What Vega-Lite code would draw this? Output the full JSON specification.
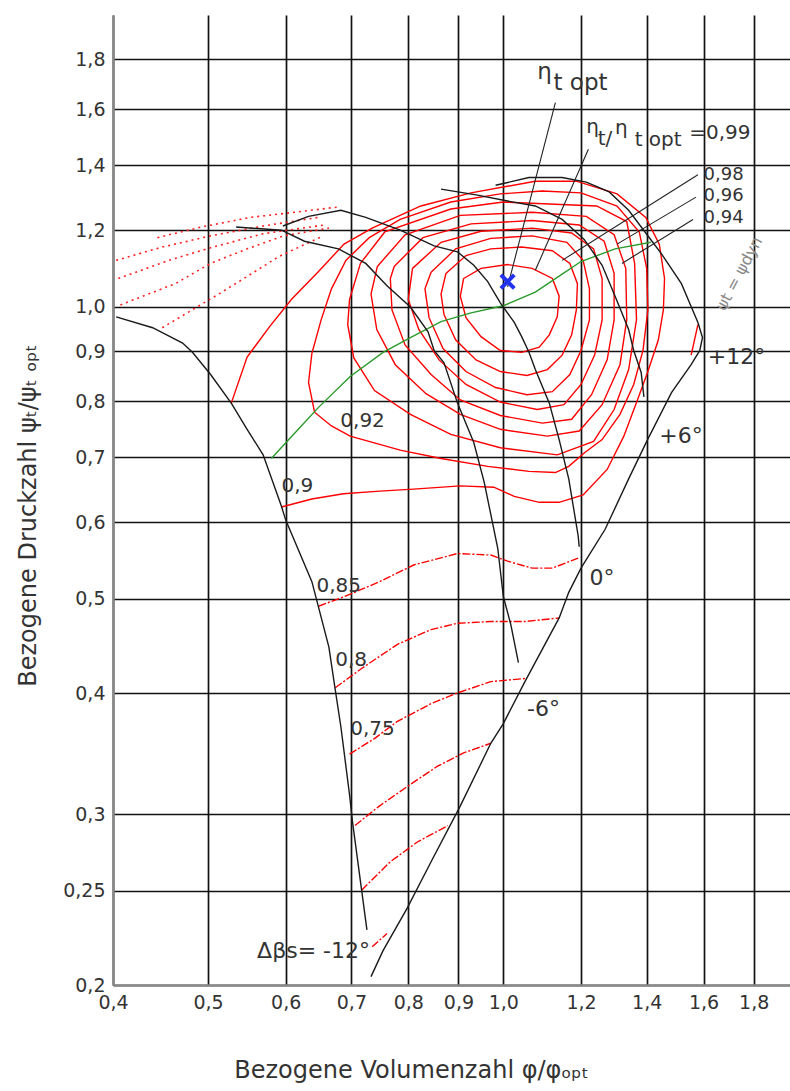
{
"$schema":"https://vega.github.io/schema/vega-lite/v6.json",
"width":677,"height":970,
"padding":{"left":113,"top":15,"right":0,"bottom":106},
"autosize":{"type":"none"},
"background":"white",
"config":{"view":{"stroke":null},"font":"DejaVu Sans"},
"datasets":{
"lines":[
{"k":"r","g":"C99","i":0,"x":0.911,"y":1.070},{"k":"r","g":"C99","i":1,"x":0.949,"y":1.096},{"k":"r","g":"C99","i":2,"x":1.010,"y":1.106},{"k":"r","g":"C99","i":3,"x":1.070,"y":1.096},{"k":"r","g":"C99","i":4,"x":1.122,"y":1.070},{"k":"r","g":"C99","i":5,"x":1.140,"y":1.026},{"k":"r","g":"C99","i":6,"x":1.135,"y":0.977},{"k":"r","g":"C99","i":7,"x":1.114,"y":0.936},{"k":"r","g":"C99","i":8,"x":1.088,"y":0.909},{"k":"r","g":"C99","i":9,"x":1.044,"y":0.898},{"k":"r","g":"C99","i":10,"x":0.993,"y":0.902},{"k":"r","g":"C99","i":11,"x":0.949,"y":0.932},{"k":"r","g":"C99","i":12,"x":0.916,"y":0.975},{"k":"r","g":"C99","i":13,"x":0.904,"y":1.026},{"k":"r","g":"C99","i":14,"x":0.911,"y":1.070},
{"k":"r","g":"C98","i":0,"x":0.874,"y":1.083},{"k":"r","g":"C98","i":1,"x":0.916,"y":1.130},{"k":"r","g":"C98","i":2,"x":0.971,"y":1.148},{"k":"r","g":"C98","i":3,"x":1.044,"y":1.153},{"k":"r","g":"C98","i":4,"x":1.122,"y":1.143},{"k":"r","g":"C98","i":5,"x":1.169,"y":1.109},{"k":"r","g":"C98","i":6,"x":1.190,"y":1.057},{"k":"r","g":"C98","i":7,"x":1.187,"y":0.993},{"k":"r","g":"C98","i":8,"x":1.174,"y":0.936},{"k":"r","g":"C98","i":9,"x":1.148,"y":0.892},{"k":"r","g":"C98","i":10,"x":1.109,"y":0.862},{"k":"r","g":"C98","i":11,"x":1.057,"y":0.850},{"k":"r","g":"C98","i":12,"x":0.993,"y":0.858},{"k":"r","g":"C98","i":13,"x":0.938,"y":0.882},{"k":"r","g":"C98","i":14,"x":0.894,"y":0.925},{"k":"r","g":"C98","i":15,"x":0.870,"y":0.982},{"k":"r","g":"C98","i":16,"x":0.864,"y":1.031},{"k":"r","g":"C98","i":17,"x":0.874,"y":1.083},
{"k":"r","g":"C97","i":0,"x":0.844,"y":1.086},{"k":"r","g":"C97","i":1,"x":0.894,"y":1.148},{"k":"r","g":"C97","i":2,"x":0.971,"y":1.177},{"k":"r","g":"C97","i":3,"x":1.070,"y":1.184},{"k":"r","g":"C97","i":4,"x":1.161,"y":1.166},{"k":"r","g":"C97","i":5,"x":1.206,"y":1.117},{"k":"r","g":"C97","i":6,"x":1.224,"y":1.044},{"k":"r","g":"C97","i":7,"x":1.224,"y":0.970},{"k":"r","g":"C97","i":8,"x":1.200,"y":0.902},{"k":"r","g":"C97","i":9,"x":1.169,"y":0.852},{"k":"r","g":"C97","i":10,"x":1.122,"y":0.818},{"k":"r","g":"C97","i":11,"x":1.057,"y":0.812},{"k":"r","g":"C97","i":12,"x":0.982,"y":0.826},{"k":"r","g":"C97","i":13,"x":0.916,"y":0.858},{"k":"r","g":"C97","i":14,"x":0.868,"y":0.906},{"k":"r","g":"C97","i":15,"x":0.840,"y":0.975},{"k":"r","g":"C97","i":16,"x":0.832,"y":1.044},{"k":"r","g":"C97","i":17,"x":0.844,"y":1.086},
{"k":"r","g":"C96","i":0,"x":0.808,"y":1.096},{"k":"r","g":"C96","i":1,"x":0.864,"y":1.166},{"k":"r","g":"C96","i":2,"x":0.949,"y":1.197},{"k":"r","g":"C96","i":3,"x":1.070,"y":1.206},{"k":"r","g":"C96","i":4,"x":1.174,"y":1.192},{"k":"r","g":"C96","i":5,"x":1.236,"y":1.148},{"k":"r","g":"C96","i":6,"x":1.261,"y":1.070},{"k":"r","g":"C96","i":7,"x":1.261,"y":0.970},{"k":"r","g":"C96","i":8,"x":1.239,"y":0.892},{"k":"r","g":"C96","i":9,"x":1.200,"y":0.832},{"k":"r","g":"C96","i":10,"x":1.153,"y":0.793},{"k":"r","g":"C96","i":11,"x":1.083,"y":0.784},{"k":"r","g":"C96","i":12,"x":0.993,"y":0.798},{"k":"r","g":"C96","i":13,"x":0.916,"y":0.832},{"k":"r","g":"C96","i":14,"x":0.860,"y":0.882},{"k":"r","g":"C96","i":15,"x":0.820,"y":0.948},{"k":"r","g":"C96","i":16,"x":0.800,"y":1.018},{"k":"r","g":"C96","i":17,"x":0.808,"y":1.096},
{"k":"r","g":"C95","i":0,"x":0.774,"y":1.101},{"k":"r","g":"C95","i":1,"x":0.828,"y":1.179},{"k":"r","g":"C95","i":2,"x":0.927,"y":1.218},{"k":"r","g":"C95","i":3,"x":1.070,"y":1.228},{"k":"r","g":"C95","i":4,"x":1.195,"y":1.215},{"k":"r","g":"C95","i":5,"x":1.267,"y":1.169},{"k":"r","g":"C95","i":6,"x":1.297,"y":1.083},{"k":"r","g":"C95","i":7,"x":1.297,"y":0.970},{"k":"r","g":"C95","i":8,"x":1.276,"y":0.882},{"k":"r","g":"C95","i":9,"x":1.230,"y":0.812},{"k":"r","g":"C95","i":10,"x":1.174,"y":0.766},{"k":"r","g":"C95","i":11,"x":1.096,"y":0.759},{"k":"r","g":"C95","i":12,"x":0.993,"y":0.773},{"k":"r","g":"C95","i":13,"x":0.904,"y":0.802},{"k":"r","g":"C95","i":14,"x":0.844,"y":0.852},{"k":"r","g":"C95","i":15,"x":0.794,"y":0.914},{"k":"r","g":"C95","i":16,"x":0.770,"y":0.993},{"k":"r","g":"C95","i":17,"x":0.767,"y":1.070},{"k":"r","g":"C95","i":18,"x":0.774,"y":1.101},
{"k":"r","g":"C94","i":0,"x":0.744,"y":1.101},{"k":"r","g":"C94","i":1,"x":0.794,"y":1.187},{"k":"r","g":"C94","i":2,"x":0.904,"y":1.243},{"k":"r","g":"C94","i":3,"x":1.070,"y":1.252},{"k":"r","g":"C94","i":4,"x":1.215,"y":1.240},{"k":"r","g":"C94","i":5,"x":1.297,"y":1.187},{"k":"r","g":"C94","i":6,"x":1.333,"y":1.096},{"k":"r","g":"C94","i":7,"x":1.336,"y":0.970},{"k":"r","g":"C94","i":8,"x":1.315,"y":0.872},{"k":"r","g":"C94","i":9,"x":1.261,"y":0.793},{"k":"r","g":"C94","i":10,"x":1.195,"y":0.745},{"k":"r","g":"C94","i":11,"x":1.109,"y":0.736},{"k":"r","g":"C94","i":12,"x":0.993,"y":0.748},{"k":"r","g":"C94","i":13,"x":0.904,"y":0.775},{"k":"r","g":"C94","i":14,"x":0.834,"y":0.814},{"k":"r","g":"C94","i":15,"x":0.776,"y":0.872},{"k":"r","g":"C94","i":16,"x":0.743,"y":0.948},{"k":"r","g":"C94","i":17,"x":0.733,"y":1.031},{"k":"r","g":"C94","i":18,"x":0.744,"y":1.101},
{"k":"r","g":"C93","i":0,"x":0.715,"y":1.109},{"k":"r","g":"C93","i":1,"x":0.757,"y":1.195},{"k":"r","g":"C93","i":2,"x":0.884,"y":1.262},{"k":"r","g":"C93","i":3,"x":1.000,"y":1.283},{"k":"r","g":"C93","i":4,"x":1.245,"y":1.271},{"k":"r","g":"C93","i":5,"x":1.336,"y":1.225},{"k":"r","g":"C93","i":6,"x":1.361,"y":1.109},{"k":"r","g":"C93","i":7,"x":1.367,"y":0.970},{"k":"r","g":"C93","i":8,"x":1.342,"y":0.862},{"k":"r","g":"C93","i":9,"x":1.297,"y":0.784},{"k":"r","g":"C93","i":10,"x":1.236,"y":0.727},{"k":"r","g":"C93","i":11,"x":1.135,"y":0.704},{"k":"r","g":"C93","i":12,"x":0.993,"y":0.716},{"k":"r","g":"C93","i":13,"x":0.884,"y":0.739},{"k":"r","g":"C93","i":14,"x":0.804,"y":0.775},{"k":"r","g":"C93","i":15,"x":0.739,"y":0.820},{"k":"r","g":"C93","i":16,"x":0.704,"y":0.886},{"k":"r","g":"C93","i":17,"x":0.694,"y":0.959},{"k":"r","g":"C93","i":18,"x":0.697,"y":1.018},{"k":"r","g":"C93","i":19,"x":0.715,"y":1.109},
{"k":"r","g":"C92","i":0,"x":0.633,"y":0.836},{"k":"r","g":"C92","i":1,"x":0.638,"y":0.896},{"k":"r","g":"C92","i":2,"x":0.652,"y":0.970},{"k":"r","g":"C92","i":3,"x":0.668,"y":1.044},{"k":"r","g":"C92","i":4,"x":0.691,"y":1.117},{"k":"r","g":"C92","i":5,"x":0.730,"y":1.179},{"k":"r","g":"C92","i":6,"x":0.785,"y":1.231},{"k":"r","g":"C92","i":7,"x":0.884,"y":1.283},{"k":"r","g":"C92","i":8,"x":0.993,"y":1.308},{"k":"r","g":"C92","i":9,"x":1.096,"y":1.317},{"k":"r","g":"C92","i":10,"x":1.200,"y":1.311},{"k":"r","g":"C92","i":11,"x":1.306,"y":1.271},{"k":"r","g":"C92","i":12,"x":1.376,"y":1.195},{"k":"r","g":"C92","i":13,"x":1.400,"y":1.096},{"k":"r","g":"C92","i":14,"x":1.404,"y":0.993},{"k":"r","g":"C92","i":15,"x":1.388,"y":0.902},{"k":"r","g":"C92","i":16,"x":1.358,"y":0.832},{"k":"r","g":"C92","i":17,"x":1.315,"y":0.775},{"k":"r","g":"C92","i":18,"x":1.261,"y":0.730},{"k":"r","g":"C92","i":19,"x":1.209,"y":0.707},{"k":"r","g":"C92","i":20,"x":1.166,"y":0.685},{"k":"r","g":"C92","i":21,"x":1.130,"y":0.675},{"k":"r","g":"C92","i":22,"x":1.062,"y":0.677},{"k":"r","g":"C92","i":23,"x":0.964,"y":0.685},{"k":"r","g":"C92","i":24,"x":0.864,"y":0.698},{"k":"r","g":"C92","i":25,"x":0.785,"y":0.712},{"k":"r","g":"C92","i":26,"x":0.698,"y":0.736},{"k":"r","g":"C92","i":27,"x":0.668,"y":0.754},{"k":"r","g":"C92","i":28,"x":0.642,"y":0.779},{"k":"r","g":"C92","i":29,"x":0.633,"y":0.836},
{"k":"r","g":"C90","i":0,"x":0.528,"y":0.796},{"k":"r","g":"C90","i":1,"x":0.548,"y":0.888},{"k":"r","g":"C90","i":2,"x":0.578,"y":0.955},{"k":"r","g":"C90","i":3,"x":0.608,"y":1.018},{"k":"r","g":"C90","i":4,"x":0.648,"y":1.088},{"k":"r","g":"C90","i":5,"x":0.688,"y":1.161},{"k":"r","g":"C90","i":6,"x":0.735,"y":1.206},{"k":"r","g":"C90","i":7,"x":0.824,"y":1.271},{"k":"r","g":"C90","i":8,"x":0.927,"y":1.311},{"k":"r","g":"C90","i":9,"x":1.078,"y":1.348},{"k":"r","g":"C90","i":10,"x":1.187,"y":1.348},{"k":"r","g":"C90","i":11,"x":1.306,"y":1.308},{"k":"r","g":"C90","i":12,"x":1.397,"y":1.237},{"k":"r","g":"C90","i":13,"x":1.442,"y":1.161},{"k":"r","g":"C90","i":14,"x":1.460,"y":1.070},{"k":"r","g":"C90","i":15,"x":1.456,"y":0.993},{"k":"r","g":"C90","i":16,"x":1.439,"y":0.925},{"k":"r","g":"C90","i":17,"x":1.404,"y":0.858},{"k":"r","g":"C90","i":18,"x":1.370,"y":0.802},{"k":"r","g":"C90","i":19,"x":1.327,"y":0.736},{"k":"r","g":"C90","i":20,"x":1.276,"y":0.680},{"k":"r","g":"C90","i":21,"x":1.206,"y":0.640},{"k":"r","g":"C90","i":22,"x":1.140,"y":0.629},{"k":"r","g":"C90","i":23,"x":1.088,"y":0.629},{"k":"r","g":"C90","i":24,"x":1.026,"y":0.638},{"k":"r","g":"C90","i":25,"x":0.978,"y":0.652},{"k":"r","g":"C90","i":26,"x":0.904,"y":0.654},{"k":"r","g":"C90","i":27,"x":0.810,"y":0.649},{"k":"r","g":"C90","i":28,"x":0.748,"y":0.646},{"k":"r","g":"C90","i":29,"x":0.687,"y":0.642},{"k":"r","g":"C90","i":30,"x":0.638,"y":0.634},{"k":"r","g":"C90","i":31,"x":0.594,"y":0.622},
{"k":"r","g":"S12","i":0,"x":1.579,"y":0.959},{"k":"r","g":"S12","i":1,"x":1.554,"y":0.892},
{"k":"rd","g":"L85","i":0,"x":0.648,"y":0.4915},{"k":"rd","g":"L85","i":1,"x":0.689,"y":0.503},{"k":"rd","g":"L85","i":2,"x":0.748,"y":0.521},{"k":"rd","g":"L85","i":3,"x":0.810,"y":0.542},{"k":"rd","g":"L85","i":4,"x":0.898,"y":0.557},{"k":"rd","g":"L85","i":5,"x":0.971,"y":0.555},{"k":"rd","g":"L85","i":6,"x":1.010,"y":0.547},{"k":"rd","g":"L85","i":7,"x":1.070,"y":0.538},{"k":"rd","g":"L85","i":8,"x":1.122,"y":0.538},{"k":"rd","g":"L85","i":9,"x":1.192,"y":0.551},
{"k":"rd","g":"L80","i":0,"x":0.674,"y":0.405},{"k":"rd","g":"L80","i":1,"x":0.717,"y":0.424},{"k":"rd","g":"L80","i":2,"x":0.780,"y":0.449},{"k":"rd","g":"L80","i":3,"x":0.844,"y":0.465},{"k":"rd","g":"L80","i":4,"x":0.898,"y":0.472},{"k":"rd","g":"L80","i":5,"x":0.971,"y":0.474},{"k":"rd","g":"L80","i":6,"x":1.052,"y":0.474},{"k":"rd","g":"L80","i":7,"x":1.140,"y":0.478},
{"k":"rd","g":"L75","i":0,"x":0.697,"y":0.346},{"k":"rd","g":"L75","i":1,"x":0.739,"y":0.359},{"k":"rd","g":"L75","i":2,"x":0.780,"y":0.374},{"k":"rd","g":"L75","i":3,"x":0.844,"y":0.390},{"k":"rd","g":"L75","i":4,"x":0.898,"y":0.400},{"k":"rd","g":"L75","i":5,"x":0.971,"y":0.411},{"k":"rd","g":"L75","i":6,"x":1.052,"y":0.414},
{"k":"rd","g":"L70","i":0,"x":0.706,"y":0.292},{"k":"rd","g":"L70","i":1,"x":0.748,"y":0.306},{"k":"rd","g":"L70","i":2,"x":0.804,"y":0.322},{"k":"rd","g":"L70","i":3,"x":0.856,"y":0.336},{"k":"rd","g":"L70","i":4,"x":0.911,"y":0.347},{"k":"rd","g":"L70","i":5,"x":0.971,"y":0.355},
{"k":"rd","g":"L65","i":0,"x":0.717,"y":0.2505},{"k":"rd","g":"L65","i":1,"x":0.767,"y":0.268},{"k":"rd","g":"L65","i":2,"x":0.818,"y":0.281},{"k":"rd","g":"L65","i":3,"x":0.878,"y":0.292},
{"k":"rd","g":"L60","i":0,"x":0.735,"y":0.219},{"k":"rd","g":"L60","i":1,"x":0.761,"y":0.226},
{"k":"rt","g":"T1","i":0,"x":0.444,"y":1.179},{"k":"rt","g":"T1","i":1,"x":0.492,"y":1.209},{"k":"rt","g":"T1","i":2,"x":0.552,"y":1.237},{"k":"rt","g":"T1","i":3,"x":0.612,"y":1.252},{"k":"rt","g":"T1","i":4,"x":0.679,"y":1.268},
{"k":"rt","g":"T2","i":0,"x":0.403,"y":1.117},{"k":"rt","g":"T2","i":1,"x":0.449,"y":1.153},{"k":"rt","g":"T2","i":2,"x":0.503,"y":1.184},{"k":"rt","g":"T2","i":3,"x":0.569,"y":1.212},{"k":"rt","g":"T2","i":4,"x":0.648,"y":1.237},
{"k":"rt","g":"T3","i":0,"x":0.405,"y":1.070},{"k":"rt","g":"T3","i":1,"x":0.456,"y":1.117},{"k":"rt","g":"T3","i":2,"x":0.506,"y":1.153},{"k":"rt","g":"T3","i":3,"x":0.569,"y":1.190},{"k":"rt","g":"T3","i":4,"x":0.658,"y":1.215},
{"k":"rt","g":"T4","i":0,"x":0.407,"y":1.005},{"k":"rt","g":"T4","i":1,"x":0.463,"y":1.057},{"k":"rt","g":"T4","i":2,"x":0.503,"y":1.109},{"k":"rt","g":"T4","i":3,"x":0.548,"y":1.148},{"k":"rt","g":"T4","i":4,"x":0.597,"y":1.184},{"k":"rt","g":"T4","i":5,"x":0.664,"y":1.206},
{"k":"rt","g":"T5","i":0,"x":0.449,"y":0.952},{"k":"rt","g":"T5","i":1,"x":0.506,"y":1.023},{"k":"rt","g":"T5","i":2,"x":0.548,"y":1.075},{"k":"rt","g":"T5","i":3,"x":0.590,"y":1.127},{"k":"rt","g":"T5","i":4,"x":0.653,"y":1.182},
{"k":"b","g":"A","i":0,"x":0.403,"y":0.977},{"k":"b","g":"A","i":1,"x":0.439,"y":0.952},{"k":"b","g":"A","i":2,"x":0.471,"y":0.918},{"k":"b","g":"A","i":3,"x":0.482,"y":0.898},{"k":"b","g":"A","i":4,"x":0.503,"y":0.852},{"k":"b","g":"A","i":5,"x":0.528,"y":0.796},{"k":"b","g":"A","i":6,"x":0.548,"y":0.748},{"k":"b","g":"A","i":7,"x":0.569,"y":0.704},{"k":"b","g":"A","i":8,"x":0.594,"y":0.623},{"k":"b","g":"A","i":9,"x":0.600,"y":0.603},{"k":"b","g":"A","i":10,"x":0.638,"y":0.521},{"k":"b","g":"A","i":11,"x":0.664,"y":0.446},{"k":"b","g":"A","i":12,"x":0.674,"y":0.403},{"k":"b","g":"A","i":13,"x":0.683,"y":0.369},{"k":"b","g":"A","i":14,"x":0.697,"y":0.314},{"k":"b","g":"A","i":15,"x":0.702,"y":0.294},{"k":"b","g":"A","i":16,"x":0.717,"y":0.2505},{"k":"b","g":"A","i":17,"x":0.726,"y":0.228},
{"k":"b","g":"B1","i":0,"x":0.534,"y":1.209},{"k":"b","g":"B1","i":1,"x":0.594,"y":1.200},{"k":"b","g":"B1","i":2,"x":0.627,"y":1.169},{"k":"b","g":"B1","i":3,"x":0.679,"y":1.148},{"k":"b","g":"B1","i":4,"x":0.724,"y":1.109},{"k":"b","g":"B1","i":5,"x":0.761,"y":1.052},{"k":"b","g":"B1","i":6,"x":0.804,"y":1.000},{"k":"b","g":"B1","i":7,"x":0.838,"y":0.943},{"k":"b","g":"B1","i":8,"x":0.850,"y":0.902},{"k":"b","g":"B1","i":9,"x":0.870,"y":0.876},{"k":"b","g":"B1","i":10,"x":0.898,"y":0.796},{"k":"b","g":"B1","i":11,"x":0.933,"y":0.725},{"k":"b","g":"B1","i":12,"x":0.956,"y":0.660},{"k":"b","g":"B1","i":13,"x":0.987,"y":0.564},{"k":"b","g":"B1","i":14,"x":1.000,"y":0.503},{"k":"b","g":"B1","i":15,"x":1.018,"y":0.470},{"k":"b","g":"B1","i":16,"x":1.036,"y":0.430},
{"k":"b","g":"B2","i":0,"x":0.596,"y":1.212},{"k":"b","g":"B2","i":1,"x":0.633,"y":1.240},{"k":"b","g":"B2","i":2,"x":0.683,"y":1.258},{"k":"b","g":"B2","i":3,"x":0.724,"y":1.237},{"k":"b","g":"B2","i":4,"x":0.785,"y":1.200},{"k":"b","g":"B2","i":5,"x":0.850,"y":1.156},{"k":"b","g":"B2","i":6,"x":0.898,"y":1.140},{"k":"b","g":"B2","i":7,"x":0.933,"y":1.104},{"k":"b","g":"B2","i":8,"x":0.964,"y":1.062},{"k":"b","g":"B2","i":9,"x":0.993,"y":1.010},{"k":"b","g":"B2","i":10,"x":1.026,"y":0.964},{"k":"b","g":"B2","i":11,"x":1.044,"y":0.932},{"k":"b","g":"B2","i":12,"x":1.062,"y":0.898},{"k":"b","g":"B2","i":13,"x":1.078,"y":0.862},{"k":"b","g":"B2","i":14,"x":1.114,"y":0.796},{"k":"b","g":"B2","i":15,"x":1.140,"y":0.730},{"k":"b","g":"B2","i":16,"x":1.166,"y":0.665},{"k":"b","g":"B2","i":17,"x":1.192,"y":0.581},{"k":"b","g":"B2","i":18,"x":1.195,"y":0.566},
{"k":"b","g":"C","i":0,"x":0.864,"y":1.323},{"k":"b","g":"C","i":1,"x":0.938,"y":1.305},{"k":"b","g":"C","i":2,"x":1.010,"y":1.286},{"k":"b","g":"C","i":3,"x":1.078,"y":1.271},{"k":"b","g":"C","i":4,"x":1.148,"y":1.231},{"k":"b","g":"C","i":5,"x":1.209,"y":1.174},{"k":"b","g":"C","i":6,"x":1.261,"y":1.104},{"k":"b","g":"C","i":7,"x":1.300,"y":1.026},{"k":"b","g":"C","i":8,"x":1.342,"y":0.948},{"k":"b","g":"C","i":9,"x":1.358,"y":0.902},{"k":"b","g":"C","i":10,"x":1.382,"y":0.856},{"k":"b","g":"C","i":11,"x":1.391,"y":0.808},
{"k":"b","g":"D","i":0,"x":0.982,"y":1.335},{"k":"b","g":"D","i":1,"x":1.062,"y":1.360},{"k":"b","g":"D","i":2,"x":1.148,"y":1.360},{"k":"b","g":"D","i":3,"x":1.215,"y":1.345},{"k":"b","g":"D","i":4,"x":1.282,"y":1.314},{"k":"b","g":"D","i":5,"x":1.342,"y":1.258},{"k":"b","g":"D","i":6,"x":1.397,"y":1.192},{"k":"b","g":"D","i":7,"x":1.449,"y":1.135},{"k":"b","g":"D","i":8,"x":1.519,"y":1.057},{"k":"b","g":"D","i":9,"x":1.579,"y":0.964},{"k":"b","g":"D","i":10,"x":1.596,"y":0.930},{"k":"b","g":"D","i":11,"x":1.586,"y":0.902},{"k":"b","g":"D","i":12,"x":1.554,"y":0.872},{"k":"b","g":"D","i":13,"x":1.484,"y":0.816},{"k":"b","g":"D","i":14,"x":1.403,"y":0.730},{"k":"b","g":"D","i":15,"x":1.342,"y":0.665},{"k":"b","g":"D","i":16,"x":1.270,"y":0.590},{"k":"b","g":"D","i":17,"x":1.200,"y":0.538},{"k":"b","g":"D","i":18,"x":1.166,"y":0.508},{"k":"b","g":"D","i":19,"x":1.140,"y":0.478},{"k":"b","g":"D","i":20,"x":1.052,"y":0.411},{"k":"b","g":"D","i":21,"x":1.000,"y":0.372},{"k":"b","g":"D","i":22,"x":0.971,"y":0.355},{"k":"b","g":"D","i":23,"x":0.904,"y":0.306},{"k":"b","g":"D","i":24,"x":0.844,"y":0.268},{"k":"b","g":"D","i":25,"x":0.798,"y":0.240},{"k":"b","g":"D","i":26,"x":0.754,"y":0.217},{"k":"b","g":"D","i":27,"x":0.733,"y":0.204},
{"k":"l","g":"L1","i":0,"x":1.130,"y":1.624},{"k":"l","g":"L1","i":1,"x":1.010,"y":1.049},
{"k":"l","g":"L2","i":0,"x":1.221,"y":1.454},{"k":"l","g":"L2","i":1,"x":1.078,"y":1.091},
{"k":"l","g":"L3","i":0,"x":1.579,"y":1.369},{"k":"l","g":"L3","i":1,"x":1.148,"y":1.117},
{"k":"l","g":"L4","i":0,"x":1.572,"y":1.298},{"k":"l","g":"L4","i":1,"x":1.306,"y":1.161},
{"k":"l","g":"L5","i":0,"x":1.561,"y":1.231},{"k":"l","g":"L5","i":1,"x":1.321,"y":1.109},
{"k":"g","g":"G","i":0,"x":0.580,"y":0.698},{"k":"g","g":"G","i":1,"x":0.618,"y":0.748},{"k":"g","g":"G","i":2,"x":0.648,"y":0.788},{"k":"g","g":"G","i":3,"x":0.698,"y":0.848},{"k":"g","g":"G","i":4,"x":0.754,"y":0.898},{"k":"g","g":"G","i":5,"x":0.804,"y":0.930},{"k":"g","g":"G","i":6,"x":0.864,"y":0.966},{"k":"g","g":"G","i":7,"x":0.927,"y":0.986},{"k":"g","g":"G","i":8,"x":1.000,"y":1.003},{"k":"g","g":"G","i":9,"x":1.078,"y":1.036},{"k":"g","g":"G","i":10,"x":1.148,"y":1.081},{"k":"g","g":"G","i":11,"x":1.200,"y":1.114},{"k":"g","g":"G","i":12,"x":1.300,"y":1.148},{"k":"g","g":"G","i":13,"x":1.414,"y":1.166}
],
"txt":[
{"grp":"m","t":"0,92","x":0.682,"y":0.7625},
{"grp":"m","t":"0,9","x":0.594,"y":0.654},
{"grp":"m","t":"0,85","x":0.645,"y":0.516},
{"grp":"m","t":"0,8","x":0.674,"y":0.433},
{"grp":"m","t":"0,75","x":0.698,"y":0.367},
{"grp":"s","t":"0,98","x":1.600,"y":1.369},
{"grp":"s","t":"0,96","x":1.600,"y":1.302},
{"grp":"s","t":"0,94","x":1.600,"y":1.234},
{"grp":"d","t":"+12°","x":1.616,"y":0.888},
{"grp":"d","t":"+6°","x":1.442,"y":0.736},
{"grp":"d","t":"0°","x":1.224,"y":0.525},
{"grp":"d","t":"-6°","x":1.057,"y":0.385},
{"grp":"d","t":"Δβs= -12°","x":0.561,"y":0.217},
{"grp":"a","t":"η","x":1.215,"y":1.511},
{"grp":"a","t":"t/","x":1.248,"y":1.468},
{"grp":"a","t":"η","x":1.300,"y":1.507},
{"grp":"a","t":"t opt","x":1.361,"y":1.464},
{"grp":"a","t":"=0,99","x":1.547,"y":1.489},
{"grp":"big","t":"η","x":1.083,"y":1.72},
{"grp":"big","t":"t opt","x":1.125,"y":1.672},
{"grp":"rot","t":"ψt = ψdyn","x":1.74,"y":1.082}
],
"opt":[{"x":1.01,"y":1.062}]
},
"encoding":{
"x":{"field":"x","type":"quantitative","scale":{"type":"log","domain":[0.4,1.96],"nice":false},
"axis":{"values":[0.4,0.5,0.6,0.7,0.8,0.9,1,1.2,1.4,1.6,1.8],"labelExpr":"replace(format(datum.value,'.1f'),'.',',')","grid":true,"gridColor":"#111111","gridWidth":1.7,"domainColor":"#888888","domainWidth":2.5,"ticks":false,"tickSize":0,"labelPadding":8,"labelFontSize":19,"labelColor":"#333333","labelFont":"DejaVu Sans","labelOverlap":false,"labelFlush":false,"title":"Bezogene Volumenzahl  φ/φₒₚₜ","titleFont":"DejaVu Sans","titleFontSize":24,"titleFontWeight":"normal","titleColor":"#333333","titleX":298,"titleY":85,"titleAlign":"center","titleBaseline":"middle"}},
"y":{"field":"y","type":"quantitative","scale":{"type":"log","domain":[0.2,2.0],"nice":false},
"axis":{"values":[0.2,0.25,0.3,0.4,0.5,0.6,0.7,0.8,0.9,1,1.2,1.4,1.6,1.8],"labelExpr":"datum.value==0.25?'0,25':replace(format(datum.value,'.1f'),'.',',')","grid":true,"gridColor":"#111111","gridWidth":1.7,"domainColor":"#888888","domainWidth":2.5,"ticks":false,"tickSize":0,"labelPadding":8,"labelFontSize":19,"labelColor":"#333333","labelFont":"DejaVu Sans","labelOverlap":false,"labelFlush":false,"title":"Bezogene Druckzahl ψₜ/ψₜ ₒₚₜ","titleFont":"DejaVu Sans","titleFontSize":24,"titleFontWeight":"normal","titleColor":"#333333","titleX":-85,"titleY":500,"titleAngle":270,"titleAlign":"center","titleBaseline":"middle"}}
},
"layer":[
{"data":{"name":"lines"},"transform":[{"filter":"datum.k==='rt'"}],"mark":{"type":"line","color":"#ff2020","strokeWidth":1.6,"strokeDash":[2,4],"clip":true},"encoding":{"detail":{"field":"g"},"order":{"field":"i","type":"quantitative"}}},
{"data":{"name":"lines"},"transform":[{"filter":"datum.k==='rd'"}],"mark":{"type":"line","color":"#ff0000","strokeWidth":1.4,"strokeDash":[8,2,2,2],"clip":true},"encoding":{"detail":{"field":"g"},"order":{"field":"i","type":"quantitative"}}},
{"data":{"name":"lines"},"transform":[{"filter":"datum.k==='r'"}],"mark":{"type":"line","color":"#ff0000","strokeWidth":1.4,"clip":true},"encoding":{"detail":{"field":"g"},"order":{"field":"i","type":"quantitative"}}},
{"data":{"name":"lines"},"transform":[{"filter":"datum.k==='g'"}],"mark":{"type":"line","color":"#2a9a2a","strokeWidth":1.4,"clip":true},"encoding":{"detail":{"field":"g"},"order":{"field":"i","type":"quantitative"}}},
{"data":{"name":"lines"},"transform":[{"filter":"datum.k==='b'"}],"mark":{"type":"line","color":"#1a1a1a","strokeWidth":1.4,"clip":true},"encoding":{"detail":{"field":"g"},"order":{"field":"i","type":"quantitative"}}},
{"data":{"name":"lines"},"transform":[{"filter":"datum.k==='l'"}],"mark":{"type":"line","color":"#222222","strokeWidth":1.1,"clip":true},"encoding":{"detail":{"field":"g"},"order":{"field":"i","type":"quantitative"}}},
{"data":{"name":"opt"},"mark":{"type":"point","shape":"M-1,-1L1,1M-1,1L1,-1","size":180,"filled":false,"stroke":"#2233ee","strokeWidth":4,"opacity":1}},
{"data":{"name":"txt"},"transform":[{"filter":"datum.grp==='m'"}],"mark":{"type":"text","align":"left","baseline":"middle","fontSize":20,"font":"DejaVu Sans","color":"#333333"},"encoding":{"text":{"field":"t"}}},
{"data":{"name":"txt"},"transform":[{"filter":"datum.grp==='s'"}],"mark":{"type":"text","align":"left","baseline":"middle","fontSize":18,"font":"DejaVu Sans","color":"#333333"},"encoding":{"text":{"field":"t"}}},
{"data":{"name":"txt"},"transform":[{"filter":"datum.grp==='d'"}],"mark":{"type":"text","align":"left","baseline":"middle","fontSize":22,"font":"DejaVu Sans","color":"#333333"},"encoding":{"text":{"field":"t"}}},
{"data":{"name":"txt"},"transform":[{"filter":"datum.grp==='a'"}],"mark":{"type":"text","align":"left","baseline":"alphabetic","fontSize":20,"font":"DejaVu Sans","color":"#333333"},"encoding":{"text":{"field":"t"}}},
{"data":{"name":"txt"},"transform":[{"filter":"datum.grp==='big'"}],"mark":{"type":"text","align":"left","baseline":"alphabetic","fontSize":23,"font":"DejaVu Sans","color":"#333333"},"encoding":{"text":{"field":"t"}}},
{"data":{"name":"txt"},"transform":[{"filter":"datum.grp==='rot'"}],"mark":{"type":"text","align":"center","baseline":"middle","fontSize":16,"font":"DejaVu Sans","color":"#888888","angle":298},"encoding":{"text":{"field":"t"}}}
]
}
